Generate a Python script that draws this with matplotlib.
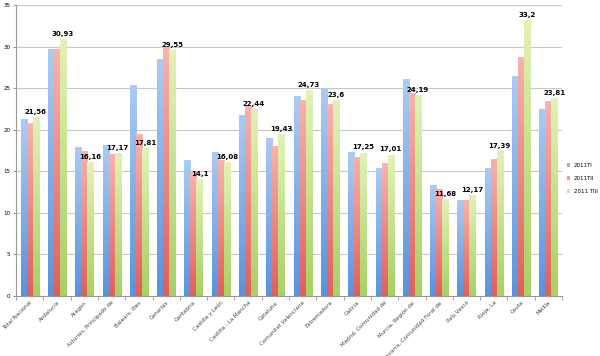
import numpy as np
import matplotlib.pyplot as plt
from matplotlib.colors import LinearSegmentedColormap

categorias = ["Total Nacional", "Andalucía", "Aragón", "Asturias, Principado de",
              "Balears, Illes", "Canarias", "Cantabria", "Castilla y León",
              "Castilla - La Mancha", "Cataluña", "Comunitat Valenciana",
              "Extremadura", "Galicia", "Madrid, Comunidad de", "Murcia, Región de",
              "Navarra, Comunidad Foral de", "País Vasco", "Rioja, La", "Ceuta", "Melilla"]
t1 = [21.3, 29.7, 17.97, 18.17, 25.35, 28.5, 16.33, 17.37, 21.8, 19.0, 24.1,
      25.07, 17.3, 15.44, 26.15, 13.36, 11.59, 15.44, 26.4, 22.5]
t2 = [20.85, 29.7, 17.45, 17.12, 19.46, 29.8, 14.9, 16.33, 22.9, 18.1, 23.6,
      23.15, 16.77, 15.97, 24.47, 12.88, 11.59, 16.49, 28.76, 23.43]
t3 = [21.56, 30.93, 16.16, 17.17, 17.81, 29.55, 14.1, 16.08, 22.44, 19.43, 24.73,
      23.6, 17.25, 17.01, 24.19, 11.68, 12.17, 17.39, 33.2, 23.81]
etiquetas = ["21,56", "30,93", "16,16", "17,17", "17,81", "29,55", "14,1", "16,08",
             "22,44", "19,43", "24,73", "23,6", "17,25", "17,01", "24,19", "11,68",
             "12,17", "17,39", "33,2", "23,81"]
series = ["2011TI", "2011TII", "2011 TIII"]
colores = ["#8db6ec", "#f39a95", "#cfe897"]
# degradado de cada barra: (abajo, arriba)
degradados = [("#5a93dc", "#abcbf3"), ("#e05f5c", "#f9b2ad"), ("#a8d062", "#e2f2b6")]

fig = plt.figure(figsize=(6, 3.56), dpi=100)
ax = fig.add_axes([0.0267, 0.1685, 0.91, 0.8175])

x = np.arange(len(categorias))
w = 0.22
grad = np.linspace(0, 1, 64).reshape(-1, 1)
for i, (vals, c, nombre, dg) in enumerate(zip([t1, t2, t3], colores, series, degradados)):
    barras = ax.bar(x + (i - 1) * w, vals, w, color=c, label=nombre, zorder=3)
    cmap = LinearSegmentedColormap.from_list("g%d" % i, list(dg))
    for b in barras:
        x0, y0 = b.get_x(), b.get_y()
        im = ax.imshow(grad, cmap=cmap, origin="lower", aspect="auto", zorder=3.5,
                       extent=[x0, x0 + b.get_width(), y0, y0 + b.get_height()])
        im.set_clip_path(b)

for xi, v, txt in zip(x, t3, etiquetas):
    ax.text(xi + w, v + 0.25, txt, ha="center", va="bottom", fontsize=5,
            fontweight="bold", zorder=4)

ax.set_xlim(-0.5, len(categorias) - 0.5)
ax.set_ylim(0, 35)
ax.set_yticks(range(0, 36, 5))
ax.yaxis.grid(True, color="#c8c8c8", linewidth=0.8, zorder=0)
ax.tick_params(axis="y", labelsize=4, length=2, color="#999999", pad=2)
ax.set_xticks(x)
ax.set_xticklabels(categorias, rotation=45, ha="right", rotation_mode="anchor",
                   fontsize=4, color="#444444")
ax.set_xticks(np.arange(-0.5, len(categorias), 1), minor=True)
ax.tick_params(axis="x", which="major", length=0, pad=3)
ax.tick_params(axis="x", which="minor", length=3, color="#999999")
for s in ["top", "right"]:
    ax.spines[s].set_visible(False)
for s in ["left", "bottom"]:
    ax.spines[s].set_color("#999999")
    ax.spines[s].set_linewidth(0.8)

ax.legend(loc="center left", bbox_to_anchor=(1.0, 0.404), fontsize=4,
          frameon=False, handlelength=0.6, handleheight=0.6, labelspacing=1.4,
          handletextpad=0.6, borderaxespad=0.5)

fig.savefig("out.png", dpi=100)
